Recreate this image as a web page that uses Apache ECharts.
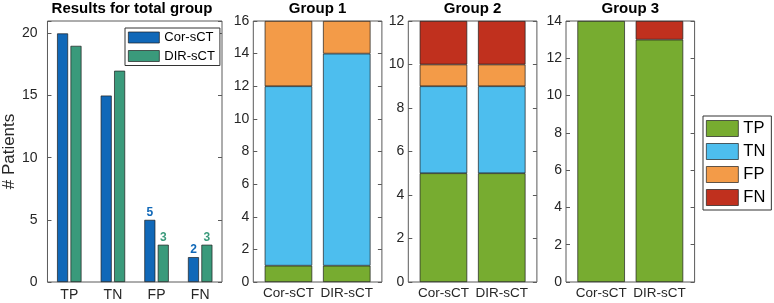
<!DOCTYPE html>
<html>
<head>
<meta charset="utf-8">
<script src="https://cdn.jsdelivr.net/npm/echarts@6/dist/echarts.min.js"></script>
<style>
  html, body { margin: 0; padding: 0; background: #fff; }
  #main { width: 774px; height: 303px; }
</style>
</head>
<body>
<div id="main"></div>
<script>
// total group
const totalCats = ['TP', 'TN', 'FP', 'FN'];
const corTotal = [20, 15, 5, 2];
const dirTotal = [19, 17, 3, 3];
const totalTicks = [0, 5, 10, 15, 20];

// per group stacked bars, [Cor-sCT, DIR-sCT]
const groupNames = ['Group 1', 'Group 2', 'Group 3'];
const groupCats = ['Cor-sCT', 'DIR-sCT'];
const groupMax = [16, 12, 14];
const tpVals = [[1, 1], [5, 5], [14, 13]];
const tnVals = [[11, 13], [4, 4], [0, 0]];
const fpVals = [[4, 2], [1, 1], [0, 0]];
const fnVals = [[0, 0], [2, 2], [0, 1]];
const outcomeNames = ['TP', 'TN', 'FP', 'FN'];

const FONT = 'Arial, "Liberation Sans", sans-serif';
const axisCol = '#262626';
const boxCol = '#5a5a5a';
const edgeCol = '#1e1e1e';
const corCol = '#1068b8';
const dirCol = '#3a9a7b';
const outcomeCols = ['#77ac30', '#4dbeee', '#f39b48', '#c0301e'];

const TOP = 21, H = 261;
const boxLeft = [253.3, 408.3, 566];
const boxW = 128.6;
const inset = 6;

const grids = [{ left: 42, top: TOP, width: 180, height: H, show: true, borderColor: boxCol, borderWidth: 1 }];
const xAxes = [
    {
        type: 'category', gridIndex: 0, data: totalCats,
        axisLine: { show: false },
        axisTick: { inside: true, length: 4, alignWithLabel: true, lineStyle: { color: boxCol } },
        axisLabel: { color: axisCol, fontSize: 14, fontFamily: FONT, margin: 6, interval: 0 }
    },
    {
        type: 'category', gridIndex: 0, data: totalCats, position: 'top',
        axisLine: { show: false },
        axisTick: { inside: true, length: 4, alignWithLabel: true, lineStyle: { color: boxCol } },
        axisLabel: { show: false }
    }
];
const yAxes = [
    {
        type: 'value', gridIndex: 0, min: 0, max: 21, interval: 5,
        name: '# Patients', nameLocation: 'middle', nameGap: 18,
        nameTextStyle: { fontSize: 17, color: axisCol, fontFamily: FONT },
        axisLine: { show: false }, splitLine: { show: false },
        axisTick: { show: true, inside: true, length: 4, lineStyle: { color: boxCol } },
        axisLabel: { color: axisCol, fontSize: 14, fontFamily: FONT, margin: 10, customValues: totalTicks },
    },
    {
        type: 'value', gridIndex: 0, min: 0, max: 21, interval: 5, position: 'right',
        axisLine: { show: false }, splitLine: { show: false },
        axisTick: { show: true, inside: true, length: 4, lineStyle: { color: boxCol } },
        axisLabel: { show: false }
    }
];

function labelled(vals) {
    return vals.map((v, i) => i >= 2 ? { value: v, label: { show: true } } : v);
}

const series = [
    {
        name: 'Cor-sCT', type: 'bar', xAxisIndex: 0, yAxisIndex: 0,
        barWidth: 11, barGap: '22%',
        itemStyle: { color: corCol, borderColor: edgeCol, borderWidth: 0.7 },
        label: { show: false, position: 'top', distance: 1, color: corCol, fontWeight: 'bold', fontSize: 12, fontFamily: FONT },
        data: labelled(corTotal)
    },
    {
        name: 'DIR-sCT', type: 'bar', xAxisIndex: 0, yAxisIndex: 0,
        barWidth: 11, barGap: '22%',
        itemStyle: { color: dirCol, borderColor: edgeCol, borderWidth: 0.7 },
        label: { show: false, position: 'top', distance: 1, color: dirCol, fontWeight: 'bold', fontSize: 12, fontFamily: FONT },
        data: labelled(dirTotal)
    }
];

const graphics = [
    { type: 'text', x: 132, y: 9, style: { text: 'Results for total group', font: 'bold 15px ' + FONT, fill: '#000', align: 'center', verticalAlign: 'middle' } }
];

const groupVals = [tpVals, tnVals, fpVals, fnVals];

groupNames.forEach((gName, g) => {
    const boxGrid = grids.length;
    grids.push({ left: boxLeft[g], top: TOP, width: boxW, height: H, show: true, borderColor: boxCol, borderWidth: 1 });
    grids.push({ left: boxLeft[g] + inset, top: TOP, width: boxW - 2 * inset, height: H });
    const barGrid = boxGrid + 1;
    const base = xAxes.length;
    xAxes.push({ type: 'value', gridIndex: boxGrid, show: false });
    xAxes.push({
        type: 'category', gridIndex: barGrid, data: groupCats,
        axisLine: { show: false },
        axisTick: { inside: true, length: 4, alignWithLabel: true, lineStyle: { color: boxCol } },
        axisLabel: { color: axisCol, fontSize: 13.5, fontFamily: FONT, margin: 4, interval: 0, hideOverlap: false }
    });
    xAxes.push({
        type: 'category', gridIndex: barGrid, data: groupCats, position: 'top',
        axisLine: { show: false },
        axisTick: { inside: true, length: 4, alignWithLabel: true, lineStyle: { color: boxCol } },
        axisLabel: { show: false }
    });
    yAxes.push({
        type: 'value', gridIndex: boxGrid, min: 0, max: groupMax[g], interval: 2,
        axisLine: { show: false }, splitLine: { show: false },
        axisTick: { show: true, inside: true, length: 4, lineStyle: { color: boxCol } },
        axisLabel: { color: axisCol, fontSize: 14, fontFamily: FONT, margin: 4 }
    });
    yAxes.push({
        type: 'value', gridIndex: boxGrid, min: 0, max: groupMax[g], interval: 2, position: 'right',
        axisLine: { show: false }, splitLine: { show: false },
        axisTick: { show: true, inside: true, length: 4, lineStyle: { color: boxCol } },
        axisLabel: { show: false }
    });
    yAxes.push({ type: 'value', gridIndex: barGrid, min: 0, max: groupMax[g], show: false });

    outcomeNames.forEach((oName, k) => {
        series.push({
            name: oName, type: 'bar', stack: 'g' + g,
            xAxisIndex: base + 1, yAxisIndex: base + 2,
            barWidth: 47.5,
            itemStyle: { color: outcomeCols[k], borderColor: edgeCol, borderWidth: 0.7 },
            data: groupVals[k][g].map(v => v === 0 ? '-' : v)
        });
    });

    graphics.push({
        type: 'text', x: boxLeft[g] + boxW / 2, y: 9,
        style: { text: gName, font: 'bold 15px ' + FONT, fill: '#000', align: 'center', verticalAlign: 'middle' }
    });
});

const chart = echarts.init(document.getElementById('main'));
chart.setOption({
    animation: false,
    backgroundColor: '#fff',
    grid: grids,
    xAxis: xAxes,
    yAxis: yAxes,
    legend: [
        {
            data: ['Cor-sCT', 'DIR-sCT'], orient: 'vertical', left: 125, top: 28,
            icon: 'rect', itemWidth: 31, itemHeight: 11, itemGap: 5.5,
            padding: [3, 5, 3, 3], borderColor: '#333', borderWidth: 1, backgroundColor: '#fff',
            selectedMode: false,
            itemStyle: { borderColor: edgeCol, borderWidth: 0.7 },
            textStyle: { fontSize: 13, color: '#000', fontFamily: FONT }
        },
        {
            data: outcomeNames, orient: 'vertical', left: 703, top: 116,
            icon: 'rect', itemWidth: 32, itemHeight: 16, itemGap: 6,
            padding: [4, 6, 4, 3], borderColor: '#333', borderWidth: 1, backgroundColor: '#fff',
            selectedMode: false,
            itemStyle: { borderColor: edgeCol, borderWidth: 0.7 },
            textStyle: { fontSize: 16.5, color: '#000', fontFamily: FONT }
        }
    ],
    graphic: graphics,
    series: series
});
</script>
</body>
</html>
